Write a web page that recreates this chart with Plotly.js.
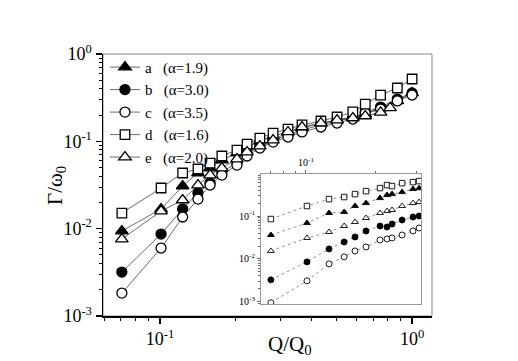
<!DOCTYPE html>
<html>
<head>
<meta charset="utf-8">
<script src="https://cdn.plot.ly/plotly-3.0.1.min.js"></script>
<style>html,body{margin:0;padding:0;background:#fff;}#chart{width:518px;height:361px;}</style>
</head>
<body>
<div id="chart"></div>
<script>
// ---- main panel data ----
const mainQ  = [0.0706,0.101,0.123,0.1415,0.158,0.176,0.202,0.2215,0.249,0.281,0.322,0.366,0.435,0.504,0.582,0.652,0.75,0.874,1.0];
const mainA  = [0.0094,0.0168,0.0308,0.0434,0.0494,0.0611,0.0734,0.086,0.1008,0.115,0.128,0.142,0.162,0.175,0.190,0.205,0.241,0.290,0.358];
const mainB  = [0.00318,0.00867,0.0168,0.0256,0.0333,0.0445,0.0564,0.0734,0.0883,0.1035,0.118,0.135,0.154,0.171,0.185,0.217,0.247,0.305,0.358];
const mainC  = [0.00183,0.0060,0.0136,0.0218,0.0316,0.0411,0.0535,0.0679,0.0838,0.098,0.112,0.128,0.146,0.162,0.180,0.211,0.234,0.290,0.339];
const mainD  = [0.0151,0.0292,0.0434,0.0482,0.0564,0.0679,0.0795,0.093,0.109,0.124,0.138,0.154,0.171,0.190,0.217,0.267,0.339,0.408,0.517];
const mainQe = [0.0706,0.101,0.123,0.1415,0.158,0.176,0.202,0.2215,0.249,0.281,0.322,0.366,0.435,0.504,0.582,0.652,0.75,0.818];
const mainE  = [0.0076,0.0159,0.0213,0.0316,0.0411,0.0494,0.0627,0.0754,0.0883,0.1035,0.128,0.146,0.162,0.175,0.185,0.195,0.215,0.241];

// ---- inset data ----
const insetQ = [0.0706,0.101,0.1257,0.146,0.1626,0.1814,0.2084,0.2234,0.2348,0.2594,0.289,0.307];
const insetD = [0.0851,0.171,0.248,0.277,0.325,0.381,0.448,0.526,0.499,0.585,0.618,0.652];
const insetA = [0.0361,0.0687,0.1175,0.124,0.171,0.200,0.262,0.308,0.325,0.361,0.425,0.445];
const insetE = [0.01535,0.0308,0.0425,0.0585,0.0724,0.0898,0.1175,0.1306,0.138,0.171,0.200,0.212];
const insetB = [0.00325,0.00851,0.0171,0.0248,0.0325,0.0448,0.0585,0.0555,0.0652,0.0807,0.0948,0.1];
const insetC = [0.00095,0.00308,0.00766,0.01114,0.01535,0.0190,0.0277,0.0292,0.0308,0.0361,0.0448,0.0526];

// ---- tick labels ----
const xTickVals = [0.1, 1];
const xTickText = ['10<sup>-1</sup>', '10<sup>0</sup>'];
const yTickVals = [0.001, 0.01, 0.1, 1];
const yTickText = ['10<sup>-3</sup>', '10<sup>-2</sup>', '10<sup>-1</sup>', '10<sup>0</sup>'];
const insetXTickVals = [0.1];
const insetXTickText = ['10<sup>-1</sup>'];
const insetYTickVals = [0.001, 0.01, 0.1];
const insetYTickText = ['10<sup>-3</sup>', '10<sup>-2</sup>', '10<sup>-1</sup>'];

const legendNames = ['a\u00a0\u00a0\u00a0(\u03b1=1.9)','b\u00a0\u00a0\u00a0(\u03b1=3.0)','c\u00a0\u00a0\u00a0(\u03b1=3.5)','d\u00a0\u00a0\u00a0(\u03b1=1.6)','e\u00a0\u00a0\u00a0(\u03b1=2.0)'];

const SERIF = 'Liberation Serif, Times New Roman, serif';
const styles = {
  a: {symbol:'triangle-up', fill:'#000'},
  b: {symbol:'circle', fill:'#000'},
  c: {symbol:'circle', fill:'#fff'},
  d: {symbol:'square', fill:'#fff'},
  e: {symbol:'triangle-up', fill:'#fff'}
};
function mainTrace(x, y, key, name, size) {
  const s = styles[key];
  return {x:x, y:y, name:name, type:'scatter', mode:'lines+markers', xaxis:'x', yaxis:'y',
    line:{color:'#444', width:0.8},
    marker:{symbol:s.symbol, size:size, color:s.fill, line:{color:'#000', width:1.3}}};
}
function insetTrace(x, y, key, size) {
  const s = styles[key];
  return {x:x, y:y, type:'scatter', mode:'lines+markers', xaxis:'x2', yaxis:'y2', showlegend:false,
    line:{color:'#777', width:0.8, dash:'dot'},
    marker:{symbol:s.symbol, size:size, color:s.fill, line:{color:'#000', width:0.9}}};
}

const data = [
  mainTrace(mainQ, mainA, 'a', legendNames[0], 11),
  mainTrace(mainQ, mainB, 'b', legendNames[1], 10),
  mainTrace(mainQ, mainC, 'c', legendNames[2], 10),
  mainTrace(mainQ, mainD, 'd', legendNames[3], 9.5),
  mainTrace(mainQe, mainE, 'e', legendNames[4], 11),
  insetTrace(insetQ, insetD, 'd', 5.5),
  insetTrace(insetQ, insetA, 'a', 6),
  insetTrace(insetQ, insetE, 'e', 6),
  insetTrace(insetQ, insetB, 'b', 6),
  insetTrace(insetQ, insetC, 'c', 6)
];

const mainTickFont = {family:SERIF, size:18, color:'#000'};
const insetTickFont = {family:SERIF, size:10, color:'#000'};

const layout = {
  width:518, height:361,
  margin:{l:103, r:86, t:54, b:45},
  paper_bgcolor:'#fff', plot_bgcolor:'rgba(0,0,0,0)',
  font:{family:SERIF, color:'#000'},
  showlegend:true,
  legend:{x:0.006, y:1.012, xanchor:'left', yanchor:'top', bgcolor:'rgba(0,0,0,0)',
          font:{family:SERIF, size:15, color:'#000'}, itemwidth:30, tracegroupgap:0},
  xaxis:{type:'log', range:[-1.226, 0.079], tickmode:'array', tickvals:xTickVals, ticktext:xTickText,
         showline:true, linecolor:'#000', linewidth:1.5, ticks:'outside', ticklen:6, tickwidth:1.2, tickcolor:'#000',
         minor:{ticks:'outside', ticklen:3, dtick:'D1', tickcolor:'#000', tickwidth:1},
         showgrid:false, zeroline:false, tickfont:mainTickFont},
  yaxis:{type:'log', range:[-3, 0], tickmode:'array', tickvals:yTickVals, ticktext:yTickText,
         showline:true, linecolor:'#000', linewidth:1.5, ticks:'outside', ticklen:6, tickwidth:1.2, tickcolor:'#000',
         minor:{ticks:'outside', ticklen:3, dtick:'D1', tickcolor:'#000', tickwidth:1},
         showgrid:false, zeroline:false, tickfont:mainTickFont},
  xaxis2:{type:'log', domain:[0.480, 0.967], anchor:'y2', side:'top', range:[-1.194, -0.504],
          tickmode:'array', tickvals:insetXTickVals, ticktext:insetXTickText,
          showline:true, mirror:true, linecolor:'#999', linewidth:1, ticks:'outside', ticklen:3, tickcolor:'#666',
          minor:{ticks:'outside', ticklen:2, dtick:'D1', tickcolor:'#666'},
          showgrid:false, zeroline:false, tickfont:insetTickFont},
  yaxis2:{type:'log', domain:[0.046, 0.542], anchor:'x2', range:[-3.05, -0.02],
          tickmode:'array', tickvals:insetYTickVals, ticktext:insetYTickText,
          showline:true, mirror:true, linecolor:'#999', linewidth:1, ticks:'outside', ticklen:3, tickcolor:'#666',
          minor:{ticks:'outside', ticklen:2, dtick:'D1', tickcolor:'#666'},
          showgrid:false, zeroline:false, tickfont:insetTickFont},
  shapes:[{type:'rect', xref:'paper', yref:'paper', x0:0, x1:1, y0:0, y1:1, layer:'below',
           line:{color:'#888', width:1}, fillcolor:'rgba(0,0,0,0)'}],
  annotations:[
    {text:'Q/Q<sub>0</sub>', xref:'paper', yref:'paper', x:0.568, y:-0.111, xanchor:'center', yanchor:'middle',
     showarrow:false, font:{family:SERIF, size:21, color:'#000'}},
    {text:'\u0393/\u03c9<sub>0</sub>', xref:'paper', yref:'paper', x:-0.143, y:0.5, xanchor:'center', yanchor:'middle',
     textangle:-90, showarrow:false, font:{family:SERIF, size:21, color:'#000'}}
  ]
};

Plotly.newPlot('chart', data, layout, {staticPlot:true, displayModeBar:false});
</script>
</body>
</html>
